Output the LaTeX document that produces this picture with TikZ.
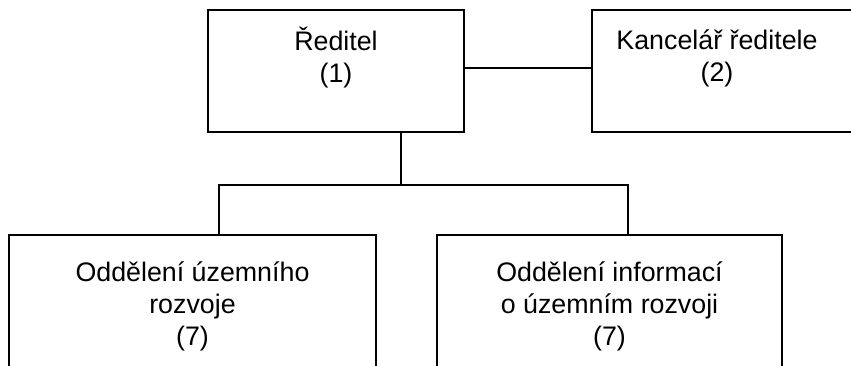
\documentclass[tikz,border=0pt]{standalone}
\usepackage{fontspec}
\setmainfont{Liberation Sans}
\begin{document}
\begin{tikzpicture}[x=1pt,y=1pt,
  box/.style={draw=black,line width=2.2pt,rectangle,inner sep=0pt},
  lbl/.style={inner sep=0pt,align=center,font=\fontsize{26.8}{32}\selectfont},
  conn/.style={draw=black,line width=2.2pt}]
\useasboundingbox (0,0) rectangle (851,365);
\clip (0,0) rectangle (851,365);
% boxes
\node[box,minimum width=256pt,minimum height=122pt] (red) at (336,294) {};
\node[box,minimum width=300pt,minimum height=122pt] (kanc) at (742,294) {};
\node[box,minimum width=367pt,minimum height=180pt] (ou) at (192.5,40) {};
\node[box,minimum width=345pt,minimum height=180pt] (oi) at (609.5,40) {};
% texts
\node[lbl] (tred) at (336,307) {Ředitel\\(1)};
\node[lbl] (tkanc) at (717,307) {Kancelář ředitele\\(2)};
\node[lbl] (tou) at (192.5,59) {Oddělení územního\\rozvoje\\(7)};
\node[lbl] (toi) at (609.5,59) {Oddělení informací\\o územním rozvoji\\(7)};
% connectors
\coordinate (j) at (401,180);
\draw[conn] ([yshift=3pt]red.east) -- ([yshift=3pt]kanc.west);
\draw[conn] (red.south -| j) -- (j);
\draw[conn] ([xshift=26.5pt]ou.north) |- (j) -| ([xshift=18.5pt]oi.north);
\end{tikzpicture}
\end{document}
